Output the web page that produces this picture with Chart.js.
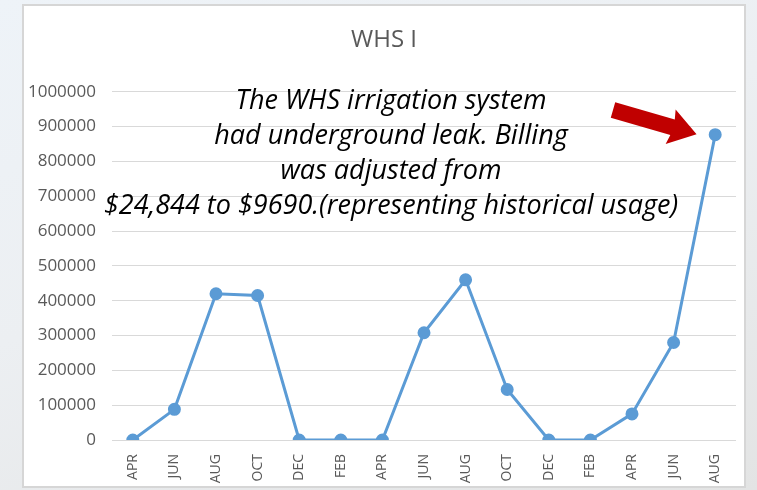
<!DOCTYPE html>
<html>
<head>
<meta charset="utf-8">
<script src="https://cdn.jsdelivr.net/npm/chart.js@4"></script>
<style>
  html, body { margin: 0; padding: 0; }
  body {
    width: 757px; height: 490px; overflow: hidden; position: relative;
    background: linear-gradient(160deg, #eef3f8 0%, #eceff2 45%, #e3e4e4 100%);
  }
  #box {
    position: absolute; left: 22px; top: 4px; width: 720px; height: 480px;
    background: #fff; border: 2px solid #d6d6d6;
  }
</style>
</head>
<body>
<div id="box"><canvas id="whsChart" width="720" height="480"></canvas></div>
<script>
// months along the billing period
const months = ['APR','JUN','AUG','OCT','DEC','FEB','APR','JUN','AUG','OCT','DEC','FEB','APR','JUN','AUG'];
// water usage
const usage = [0, 88000, 420000, 415000, 0, 0, 0, 308000, 460000, 145000, 0, 0, 75000, 280000, 877000];
const yTicks = [0, 100000, 200000, 300000, 400000, 500000, 600000, 700000, 800000, 900000, 1000000];
const noteLines = [
  'The WHS irrigation system',
  'had underground leak. Billing',
  'was adjusted from',
  '$24,844 to $9690.(representing historical usage)'
];

const gray = '#595959';

//Plugin that writes the leak note and draws the red arrow
const notePlugin = {
  id: 'note',
  afterDraw(chart) {
    const ctx = chart.ctx;
    ctx.save();
    ctx.fillStyle = '#000';
    ctx.font = 'italic 27px "Open Sans"';
    ctx.textAlign = 'center';
    ctx.textBaseline = 'middle';
    noteLines.forEach((line, i) => {
      ctx.fillText(line, 367, 95 + i * 35);
    });
    // red arrow pointing at the last point
    ctx.translate(589, 104);
    ctx.rotate(Math.atan2(24, 83));
    ctx.fillStyle = '#c00000';
    ctx.beginPath();
    ctx.moveTo(0, -8);
    ctx.lineTo(62, -8);
    ctx.lineTo(60, -18);
    ctx.lineTo(87, 0);
    ctx.lineTo(60, 18);
    ctx.lineTo(62, 8);
    ctx.lineTo(0, 8);
    ctx.closePath();
    ctx.fill();
    ctx.restore();
  }
};

const ctx = document.getElementById('whsChart').getContext('2d');
const chart1 = new Chart(ctx, {
  type: 'line',
  data: {
    labels: months,
    datasets: [{
      data: usage,
      borderColor: '#5b9bd5',
      backgroundColor: '#5b9bd5',
      borderWidth: 3,
      pointRadius: 5,
      pointHoverRadius: 5,
      tension: 0
    }]
  },
  options: {
    responsive: false,
    animation: false,
    layout: { padding: { left: 0, right: 0, top: 0, bottom: 0 } },
    plugins: {
      legend: { display: false },
      tooltip: { enabled: false },
      title: {
        display: true,
        text: 'WHS I',
        color: gray,
        font: { family: 'Open Sans', size: 24, weight: 'normal' },
        padding: { top: 20, bottom: 37 }
      }
    },
    scales: {
      x: {
        offset: true,
        grid: { display: false },
        border: { display: false },
        ticks: {
          color: gray,
          font: { family: 'Open Sans', size: 14 },
          minRotation: 90, maxRotation: 90,
          autoSkip: false,
          padding: 6
        },
        afterFit: s => { s.height = 46; }
      },
      y: {
        min: 0, max: 1000000,
        afterBuildTicks: s => { s.ticks = yTicks.map(v => ({ value: v })); },
        grid: { color: '#d9d9d9', drawTicks: false },
        border: { display: false },
        ticks: {
          color: gray,
          font: { family: 'Open Sans', size: 17 },
          padding: 16,
          callback: v => String(v)
        },
        afterFit: s => { s.width = 88; }
      }
    }
  },
  plugins: [notePlugin]
});
</script>
</body>
</html>
